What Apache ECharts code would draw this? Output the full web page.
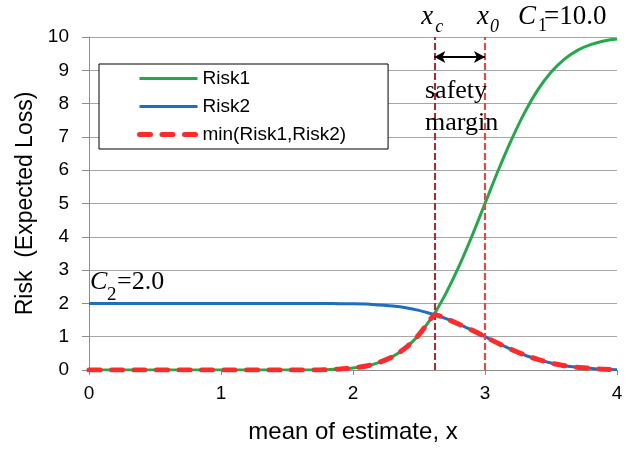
<!DOCTYPE html>
<html>
<head>
<meta charset="utf-8">
<script src="https://cdn.jsdelivr.net/npm/echarts@6/dist/echarts.min.js"></script>
<style>
html,body{margin:0;padding:0;background:#fff;}
#chart{width:643px;height:449px;}
</style>
</head>
<body>
<div id="chart"></div>
<script>
// ---- data ----
const xValues = [0,0.1,0.2,0.3,0.4,0.5,0.6,0.7,0.8,0.9,1.0,1.1,1.2,1.3,1.4,1.5,1.6,1.7,1.8,1.9,2.0,2.1,2.2,2.3,2.4,2.5,2.6,2.62,2.7,2.8,2.9,3.0,3.1,3.2,3.3,3.4,3.5,3.6,3.7,3.8,3.9,4.0];
const risk1 = [0,0,0,0,0,0,0,0,0,0,0,0,0,0,0,0,0,0,0.01,0.03,0.06,0.12,0.23,0.40,0.67,1.06,1.59,1.71,2.27,3.09,4.01,5.00,5.99,6.91,7.73,8.41,8.94,9.33,9.60,9.77,9.88,9.94];
const risk2 = [2,2,2,2,2,2,2,2,2,2,2,2,2,2,2,2,2,2,2.00,1.99,1.99,1.98,1.95,1.92,1.87,1.79,1.68,1.66,1.55,1.38,1.20,1.00,0.80,0.62,0.45,0.32,0.21,0.13,0.08,0.05,0.02,0.01];
const minRisk = [0,0,0,0,0,0,0,0,0,0,0,0,0,0,0,0,0,0,0.01,0.03,0.06,0.12,0.23,0.40,0.67,1.06,1.59,1.66,1.55,1.38,1.20,1.00,0.80,0.62,0.45,0.32,0.21,0.13,0.08,0.05,0.02,0.01];
const seriesNames = ['Risk1','Risk2','min(Risk1,Risk2)'];
const xTicks = [0,1,2,3,4];
const yTicks = [0,1,2,3,4,5,6,7,8,9,10];
const xc = 2.616;      // crossing point
const x0 = 3.0;        // Risk1 = C1/2
const arrowY = 9.4;
const C1 = 10.0, C2 = 2.0;

const pairs = (xs, ys) => xs.map((x, i) => [x, ys[i]]);

const SANS = '"Liberation Sans", Arial, sans-serif';
const SERIF = '"Liberation Serif", "Times New Roman", serif';
const grayAxis = '#8c8c8c';
const grayGrid = '#a6a6a6';

const chart = echarts.init(document.getElementById('chart'), null, {renderer: 'canvas'});

const option = {
  animation: false,
  backgroundColor: '#ffffff',
  grid: {left: 89, right: 26, top: 37, bottom: 79},
  legend: {
    orient: 'vertical',
    left: 99, top: 64,
    padding: [5, 42, 5, 38],
    itemWidth: 58, itemHeight: 14, itemGap: 9,
    borderColor: '#000', borderWidth: 1,
    backgroundColor: '#fff',
    borderRadius: 0,
    itemStyle: {opacity: 0},
    lineStyle: {width: 'inherit'},
    textStyle: {fontFamily: SANS, fontSize: 19, color: '#000'},
    data: seriesNames
  },
  xAxis: {
    type: 'value', min: 0, max: 4, interval: 1,
    name: 'mean of estimate, x', nameLocation: 'middle', nameGap: 50,
    nameTextStyle: {fontFamily: SANS, fontSize: 24, color: '#000'},
    axisLine: {show: true, lineStyle: {color: grayAxis, width: 1}},
    axisTick: {show: true, length: 5, lineStyle: {color: grayAxis}},
    axisLabel: {fontFamily: SANS, fontSize: 19, color: '#000', margin: 14,
      formatter: v => xTicks.includes(v) ? String(v) : ''},
    splitLine: {show: false}
  },
  yAxis: {
    type: 'value', min: 0, max: 10, interval: 1,
    name: 'Risk  (Expected Loss)', nameLocation: 'middle', nameGap: 50, nameRotate: 90,
    nameTextStyle: {fontFamily: SANS, fontSize: 23, color: '#000'},
    axisLine: {show: true, lineStyle: {color: grayAxis, width: 1}},
    axisTick: {show: true, length: 7, lineStyle: {color: grayAxis}},
    axisLabel: {fontFamily: SANS, fontSize: 19, color: '#000', margin: 20,
      formatter: v => yTicks.includes(v) ? String(v) : ''},
    splitLine: {show: true, lineStyle: {color: grayGrid, width: 1}}
  },
  series: [
    {
      name: seriesNames[0], type: 'line', data: pairs(xValues, risk1),
      symbol: 'none', smooth: 0.3, z: 3,
      lineStyle: {color: '#22a94a', width: 3}, itemStyle: {color: '#22a94a'}
    },
    {
      name: seriesNames[1], type: 'line', data: pairs(xValues, risk2),
      symbol: 'none', smooth: 0.3, z: 4,
      lineStyle: {color: '#1f6ebf', width: 3}, itemStyle: {color: '#1f6ebf'}
    },
    {
      name: seriesNames[2], type: 'line', data: pairs(xValues, minRisk),
      symbol: 'none', smooth: 0.3, z: 5,
      lineStyle: {color: '#ff2a2a', width: 5, type: [11, 11.5], cap: 'round'},
      itemStyle: {color: '#ff2a2a'},
      markLine: {
        silent: true, symbol: 'none', animation: false,
        label: {show: false},
        data: [
          {xAxis: xc, lineStyle: {color: '#c0242b', width: 2, type: [7, 3]}},
          {xAxis: x0, lineStyle: {color: '#ff3b3b', width: 2, type: [7, 3]}},
          [
            {coord: [xc, arrowY], symbol: 'arrow', symbolSize: [9, 11],
             lineStyle: {color: '#000', width: 2, type: 'solid'}},
            {coord: [x0, arrowY], symbol: 'arrow', symbolSize: [9, 11]}
          ]
        ]
      }
    }
  ]
};
chart.setOption(option);

// annotation texts
const pxc = chart.convertToPixel({xAxisIndex: 0, yAxisIndex: 0}, [xc, 10]);
const px0 = chart.convertToPixel({xAxisIndex: 0, yAxisIndex: 0}, [x0, 10]);
function t(x, y, text, font, align) {
  return {type: 'text', x: x, y: y, silent: true, z: 100,
    style: {text: text, font: font, fill: '#000', align: align || 'left', verticalAlign: 'middle'}};
}
chart.setOption({
  graphic: [
    t(pxc[0] - 13, 16.9, 'x', 'italic 27px ' + SERIF),
    t(pxc[0] + 1, 26.9, 'c', 'italic 18px ' + SERIF),
    t(px0[0] - 8, 16.9, 'x', 'italic 27px ' + SERIF),
    t(px0[0] + 5, 26.9, '0', 'italic 18px ' + SERIF),
    t(518, 17.4, 'C', 'italic 27px ' + SERIF),
    t(538, 25.9, '1', '18px ' + SERIF),
    t(544, 17.4, '=' + C1.toFixed(1), '27px ' + SERIF),
    t(90, 282.2, 'C', 'italic 26px ' + SERIF),
    t(107, 294.6, '2', '19px ' + SERIF),
    t(117, 282.2, '=' + C2.toFixed(1), '26px ' + SERIF),
    t(425, 91.2, 'safety', '26px ' + SERIF),
    t(425, 123.2, 'margin', '26px ' + SERIF)
  ]
});
</script>
</body>
</html>
